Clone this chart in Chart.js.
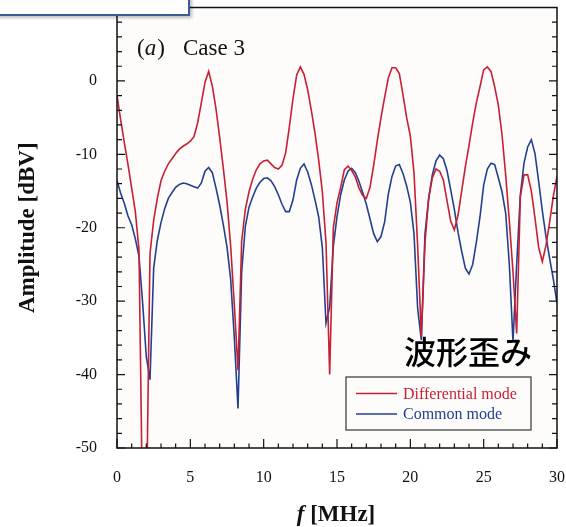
<!DOCTYPE html>
<html>
<head>
<meta charset="utf-8">
<script src="https://cdn.jsdelivr.net/npm/chart.js@4.4.0/dist/chart.umd.min.js"></script>
<style>
  body { margin: 0; background: #fff; }
  #wrap { position: relative; width: 566px; height: 527px; overflow: hidden; }
  #tag {
    position: absolute; left: -4px; top: -4px; width: 190px; height: 16px;
    border: 2.5px solid #3b5c9c; background: #fff;
    box-shadow: 2px 2px 3px rgba(0, 0, 0, 0.25);
  }
</style>
</head>
<body>
<div id="wrap">
  <canvas id="ampChart" width="566" height="527"></canvas>
  <div id="tag"></div>
</div>
<script>
// frequency grid [MHz]
const freq = [
  0, 0.25, 0.5, 0.75, 1, 1.25, 1.5, 1.75, 2, 2.25, 2.5, 2.75, 3, 3.25, 3.5, 3.75,
  4, 4.25, 4.5, 4.75, 5, 5.25, 5.5, 5.75, 6, 6.25, 6.5, 6.75, 7, 7.25, 7.5, 7.75,
  8, 8.25, 8.5, 8.75, 9, 9.25, 9.5, 9.75, 10, 10.25, 10.5, 10.75, 11, 11.25, 11.5, 11.75,
  12, 12.25, 12.5, 12.75, 13, 13.25, 13.5, 13.75, 14, 14.25, 14.5, 14.75, 15, 15.25, 15.5, 15.75,
  16, 16.25, 16.5, 16.75, 17, 17.25, 17.5, 17.75, 18, 18.25, 18.5, 18.75, 19, 19.25, 19.5, 19.75,
  20, 20.25, 20.5, 20.75, 21, 21.25, 21.5, 21.75, 22, 22.25, 22.5, 22.75, 23, 23.25, 23.5, 23.75,
  24, 24.25, 24.5, 24.75, 25, 25.25, 25.5, 25.75, 26, 26.25, 26.5, 26.75, 27, 27.25, 27.5, 27.75,
  28, 28.25, 28.5, 28.75, 29, 29.25, 29.5, 29.75, 30
];

// amplitude [dBV]
const diffMode = [
  -2.0, -5.3, -8.4, -11.4, -14.6, -17.8, -23.0, -60, -60, -23.5, -19.0, -16.0, -13.6, -12.3, -11.3, -10.6,
  -9.9, -9.3, -8.9, -8.6, -8.2, -7.6, -5.7, -3.0, -0.2, 1.3, -0.7, -3.8, -7.7, -11.9, -16.4, -22.5,
  -30.5, -39.4, -21.8, -17.5, -15.1, -13.4, -12.1, -11.3, -10.9, -10.8, -11.3, -11.8, -12.0, -11.5, -9.8, -6.3,
  -2.4, 0.8, 1.9, 0.9, -1.2, -4.0, -7.1, -10.8, -15.1, -22.0, -40.0, -20.0, -16.6, -14.5, -12.1, -11.6,
  -12.2, -13.1, -14.6, -15.6, -16.0, -14.5, -11.5, -8.1, -5.0, -2.2, 0.4, 1.8, 1.8, 1.0, -1.9, -5.0,
  -7.5, -12.5, -22.5, -34.8, -22.0, -16.0, -13.2, -12.0, -12.3, -13.5, -16.3, -19.1, -20.3, -18.3, -15.0, -11.7,
  -8.8, -5.7, -3.0, -0.8, 1.5, 1.9, 1.3, -0.8, -3.3, -7.3, -12.8, -19.1, -26.0, -34.4, -15.8, -12.8,
  -12.8, -15.0, -18.7, -22.7, -24.6, -22.4, -19.2, -15.7, -13.0
];
const commonMode = [
  -13.6, -15.3, -16.7, -18.4, -19.6, -21.5, -23.9, -30.3, -37.6, -40.7, -25.5, -21.7, -19.3, -17.4, -16.0, -15.2,
  -14.5, -14.1, -13.9, -14.0, -14.2, -14.4, -14.6, -13.9, -12.3, -11.8, -12.5, -14.6, -16.9, -19.6, -22.6, -27.0,
  -35.0, -44.6, -26.0, -19.8, -17.2, -15.8, -14.6, -13.8, -13.3, -13.2, -13.6, -14.4, -15.5, -16.8, -17.8, -17.8,
  -16.2, -13.5, -11.9, -11.3, -12.4, -14.1, -16.2, -18.5, -22.7, -33.0, -30.8, -22.5, -18.5, -15.5, -13.5, -12.3,
  -11.9, -12.5, -13.7, -15.2, -16.8, -18.8, -20.8, -21.9, -21.2, -19.2, -15.4, -13.0, -11.6, -11.4, -12.6, -14.3,
  -16.5, -20.8, -31.0, -35.3, -20.8, -16.0, -12.8, -10.9, -10.1, -10.6, -12.2, -14.8, -17.5, -20.6, -23.2, -25.5,
  -26.3, -25.0, -22.0, -18.5, -14.2, -12.0, -11.2, -11.4, -13.2, -15.1, -18.0, -25.0, -35.5, -25.0, -15.5, -11.2,
  -9.0, -8.0, -9.9, -13.7, -17.7, -21.2, -24.2, -27.0, -30.3
];

const xTicks = [0, 5, 10, 15, 20, 25, 30];
const yTicks = [-50, -40, -30, -20, -10, 0];

const RED = '#c81f33';
const BLUE = '#22408f';
const SERIF = '"Liberation Serif", "Times New Roman", serif';

// plot background, inward tick marks, labels and legend box
const frameTicks = {
  id: 'frameTicks',
  beforeDatasetsDraw(chart) {
    const { ctx, chartArea: a } = chart;
    ctx.save();
    ctx.fillStyle = '#fdfcfb';
    ctx.fillRect(a.left, a.top, a.right - a.left, a.bottom - a.top);
    ctx.restore();
  },
  afterDraw(chart) {
    const { ctx, chartArea: a, scales: { x, y } } = chart;
    ctx.save();

    ctx.strokeStyle = '#111';
    ctx.lineWidth = 1.5;
    ctx.strokeRect(a.left, a.top, a.right - a.left, a.bottom - a.top);

    ctx.lineWidth = 1.2;
    ctx.beginPath();
    for (let v = y.min; v <= y.max; v += 2) {
      const py = y.getPixelForValue(v);
      const len = v % 10 === 0 ? 8 : 5;
      ctx.moveTo(a.left, py); ctx.lineTo(a.left + len, py);
      ctx.moveTo(a.right, py); ctx.lineTo(a.right - len, py);
    }
    for (let f = x.min; f <= x.max; f += 1) {
      const px = x.getPixelForValue(f);
      const len = f % 5 === 0 ? 9 : 4.5;
      ctx.moveTo(px, a.bottom); ctx.lineTo(px, a.bottom - len);
    }
    ctx.stroke();

    // panel label
    ctx.fillStyle = '#111';
    ctx.textBaseline = 'alphabetic';
    ctx.textAlign = 'left';
    ctx.font = '23px ' + SERIF;
    let tx = 137;
    ctx.fillText('(', tx, 55); tx += ctx.measureText('(').width;
    ctx.font = 'italic 23px ' + SERIF;
    ctx.fillText('a', tx, 55); tx += ctx.measureText('a').width + 1;
    ctx.font = '23px ' + SERIF;
    ctx.fillText(')', tx, 55);
    ctx.fillText('Case 3', 183, 55);

    // x axis title with italic f
    ctx.font = 'bold italic 23px ' + SERIF;
    const wf = ctx.measureText('f').width;
    ctx.font = 'bold 23px ' + SERIF;
    const wr = ctx.measureText(' [MHz]').width;
    const x0 = 336 - (wf + wr) / 2;
    ctx.font = 'bold italic 23px ' + SERIF;
    ctx.fillText('f', x0, 521);
    ctx.font = 'bold 23px ' + SERIF;
    ctx.fillText(' [MHz]', x0 + wf, 521);

    // caption
    ctx.fillStyle = '#000';
    ctx.font = '500 32px "Noto Sans CJK JP"';
    ctx.textAlign = 'center';
    ctx.textBaseline = 'middle';
    ctx.fillText('波形歪み', 468, 352);

    // legend
    ctx.fillStyle = '#fdfcfb';
    ctx.fillRect(346, 377, 185, 53);
    ctx.strokeStyle = '#444';
    ctx.lineWidth = 1.3;
    ctx.strokeRect(346, 377, 185, 53);
    ctx.textAlign = 'left';
    ctx.font = '16px ' + SERIF;
    chart.data.datasets.forEach((ds, i) => {
      const ly = 393.5 + i * 20.5;
      ctx.strokeStyle = ds.borderColor;
      ctx.lineWidth = 1.3;
      ctx.beginPath();
      ctx.moveTo(356, ly); ctx.lineTo(397, ly);
      ctx.stroke();
      ctx.fillStyle = ds.borderColor;
      ctx.fillText(ds.label, 403, ly + 1);
    });

    ctx.restore();
  }
};

new Chart(document.getElementById('ampChart'), {
  type: 'line',
  data: {
    datasets: [
      {
        label: 'Differential mode',
        data: freq.map((f, i) => ({ x: f, y: diffMode[i] })),
        borderColor: RED,
        borderWidth: 1.6,
        pointRadius: 0,
        tension: 0
      },
      {
        label: 'Common mode',
        data: freq.map((f, i) => ({ x: f, y: commonMode[i] })),
        borderColor: BLUE,
        borderWidth: 1.6,
        pointRadius: 0,
        tension: 0
      }
    ]
  },
  options: {
    responsive: false,
    animation: false,
    layout: { padding: { top: 7.5, right: 9, left: 0, bottom: 0 } },
    plugins: {
      legend: { display: false },
      tooltip: { enabled: false }
    },
    scales: {
      x: {
        type: 'linear',
        min: 0,
        max: 30,
        afterBuildTicks: s => { s.ticks = xTicks.map(v => ({ value: v })); },
        afterFit: s => { s.height = 79; s.paddingLeft = 0; s.paddingRight = 0; },
        grid: { display: false, drawTicks: false },
        border: { display: false },
        ticks: {
          autoSkip: false,
          maxRotation: 0,
          padding: 20,
          color: '#111',
          font: { family: SERIF, size: 16 }
        }
      },
      y: {
        min: -50,
        max: 10,
        afterBuildTicks: s => { s.ticks = yTicks.map(v => ({ value: v })); },
        afterFit: s => { s.width = 117; s.paddingTop = 0; s.paddingBottom = 0; },
        grid: { display: false, drawTicks: false },
        border: { display: false },
        ticks: {
          padding: 20,
          color: '#111',
          font: { family: SERIF, size: 16 }
        },
        title: {
          display: true,
          text: 'Amplitude [dBV]',
          color: '#111',
          padding: { top: 14 },
          font: { family: SERIF, size: 23, weight: 'bold' }
        }
      }
    }
  },
  plugins: [frameTicks]
});
</script>
</body>
</html>
